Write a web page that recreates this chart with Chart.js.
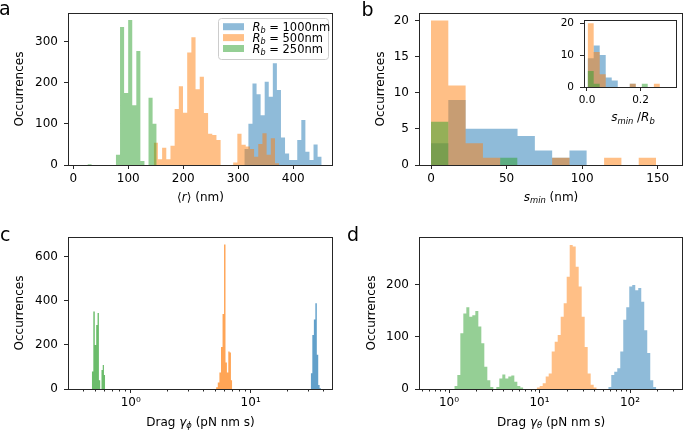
<!DOCTYPE html>
<html><head><meta charset="utf-8">
<script src="https://cdn.jsdelivr.net/npm/chart.js@4.4.1/dist/chart.umd.min.js"></script>
<style>
html,body{margin:0;padding:0;background:#fff;}
#wrap{position:relative;width:685px;height:433px;overflow:hidden;background:#fff;}
#wrap canvas{position:absolute;left:0;top:0;pointer-events:none;}
</style></head><body>
<div id="wrap">
<canvas id="ca" width="685" height="433"></canvas>
<canvas id="cb" width="685" height="433"></canvas>
<canvas id="cins" width="685" height="433"></canvas>
<canvas id="cc" width="685" height="433"></canvas>
<canvas id="cd" width="685" height="433"></canvas>
</div>
<script>
// ---------------- Series labels ----------------
const seriesNames = ['R_b = 1000nm', 'R_b = 500nm', 'R_b = 250nm'];

// ---------------- Panel a: <r> (nm) ----------------
const aXTicks = [0, 100, 200, 300, 400];
const aYTicks = [0, 100, 200, 300];
const aBlueBinStart = 311, aBlueBinWidth = 7.4;
const aBlueCounts = [39,100,198,172,121,202,166,247,182,67,28,12,12,61,109,32,12,50,20];
const aOrangeBinStart = 146.3, aOrangeBinWidth = 7.6;
const aOrangeCounts = [54,14,42,14,47,136,191,127,273,310,184,214,126,76,73,61,0,0,0,6,76,49,45,39,20,51,77,25,65,4];
const aGreenBinStart = 25.8, aGreenBinWidth = 7.4;
const aGreenCounts = [2,0,0,0,0,0,0,25,335,175,352,145,277,10,0,163,100];

// ---------------- Panel b: s_min (nm) ----------------
const bXTicks = [0, 50, 100, 150];
const bYTicks = [0, 5, 10, 15, 20];
const bBinStart = 0, bBinWidth = 11.45;
const bBlueCounts = [3,9,5,5,5,4,2,1,2];
const bOrangeCounts = [20,11,3,1,0,0,0,1,0,0,1,0,1];
const bGreenCounts = [6,0,0,0,1];

// ---------------- Inset: s_min / R_b ----------------
const insXTicks = [0, 0.2];
const insYTicks = [0, 10, 20];
const insBinStart = 0.0025, insBinWidth = 0.0225;
const insBlueCounts = [9,13,10,3,2,0,0,1];
const insOrangeCounts = [20,11,4,0,0,0,0,1,0,0,0,1];
const insGreenCounts = [5,1,0,0,0,0,0,0,0,1];

// ---------------- Panel c: Drag gamma_phi ----------------
const cXMajor = [1, 10];
const cXMinor = [0.4,0.5,0.6,0.7,0.8,0.9,2,3,4,5,6,7,8,9,20,30,40];
const cYTicks = [0, 200, 400, 600];
const cGreenBinStart = 0.474, cGreenBinWidth = 0.0138;
const cGreenCounts = [79,351,200,290,344,40,0,86,109,64];
const cOrangeBinStart = 5.15, cOrangeBinWidth = 0.17;
const cOrangeCounts = [8,30,75,190,340,655,120,75,170,165,40];
const cBlueBinStart = 31.7, cBlueBinWidth = 0.98;
const cBlueCounts = [71,245,315,389,155,18,3];

// ---------------- Panel d: Drag gamma_theta ----------------
const dXMajor = [1, 10, 100];
const dXMinor = [0.5,0.6,0.7,0.8,0.9,2,3,4,5,6,7,8,9,20,30,40,50,60,70,80,90,200,300];
const dYTicks = [0, 100, 200];
const dBinRatio = 1.0793;
const dGreenBinStart = 1.145;
const dGreenCounts = [6,27,107,145,157,139,142,150,120,88,43,17,4,0,4,20,28,20,24,26,14,6,3];
const dOrangeBinStart = 9.31;
const dOrangeCounts = [3,6,11,24,30,72,91,104,139,165,216,277,274,235,197,139,81,30,8,3];
const dBlueBinStart = 57.5;
const dBlueCounts = [4,27,33,40,72,133,157,197,200,190,194,168,113,69,17,4];

// ---------------- helpers ----------------
const FONT = "'DejaVu Sans', sans-serif";
const YW = 40, XH = 30;
const rgba = (rgb, a) => `rgba(${rgb},${a})`;
const BLUE = '31,119,180', ORANGE = '255,127,14', GREEN = '44,160,44';

function linEdges(start, width, n) { const e = []; for (let i = 0; i <= n; i++) e.push(start + i * width); return e; }
function logEdges(start, ratio, n) { const e = []; for (let i = 0; i <= n; i++) e.push(start * Math.pow(ratio, i)); return e; }
function histPoints(edges, counts) {
  const pts = counts.map((c, i) => ({ x: edges[i], y: c }));
  pts.push({ x: edges[counts.length], y: counts[counts.length - 1] });
  return pts;
}
function histDataset(label, edges, counts, rgb, alpha, order) {
  return { label, data: histPoints(edges, counts), stepped: 'before', fill: 'origin',
    backgroundColor: rgba(rgb, alpha), borderWidth: 0, borderColor: 'rgba(0,0,0,0)',
    pointRadius: 0, pointHoverRadius: 0, order };
}

function drawRich(ctx, parts, x, y, size, align, color) {
  const segs = parts.map(([t, st]) => {
    const sub = st === 'si' || st === 'sn';
    const italic = st === 'i' || st === 'si';
    const fs = sub ? size * 0.7 : size;
    const font = (italic ? 'italic ' : '') + fs + 'px ' + FONT;
    ctx.font = font;
    return { t, font, w: ctx.measureText(t).width, dy: sub ? size * 0.22 : 0 };
  });
  const total = segs.reduce((s, g) => s + g.w, 0);
  let cx = align === 'center' ? x - total / 2 : (align === 'right' ? x - total : x);
  ctx.textAlign = 'left'; ctx.textBaseline = 'alphabetic'; ctx.fillStyle = color || '#000';
  for (const g of segs) { ctx.font = g.font; ctx.fillText(g.t, cx, y + g.dy); cx += g.w; }
}
function drawVertical(ctx, text, x, y, size) {
  ctx.save(); ctx.translate(x, y); ctx.rotate(-Math.PI / 2);
  ctx.font = size + 'px ' + FONT; ctx.fillStyle = '#000';
  ctx.textAlign = 'center'; ctx.textBaseline = 'middle';
  ctx.fillText(text, 0, 0); ctx.restore();
}
function drawLetter(ctx, t, x, y) {
  ctx.font = '19px ' + FONT; ctx.fillStyle = '#000'; ctx.textAlign = 'left'; ctx.textBaseline = 'alphabetic';
  ctx.fillText(t, x, y);
}

function framePlugin(o) {
  return {
    id: 'frame' + o.id,
    beforeDraw(chart) {
      if (o.whiteBg) {
        const a = chart.chartArea, ctx = chart.ctx;
        ctx.save(); ctx.fillStyle = '#fff'; ctx.fillRect(a.left, a.top, a.right - a.left, a.bottom - a.top); ctx.restore();
      }
    },
    afterDraw(chart) {
      const a = chart.chartArea, ctx = chart.ctx;
      ctx.save();
      ctx.strokeStyle = '#262626'; ctx.lineWidth = 1;
      ctx.strokeRect(Math.round(a.left) + 0.5, Math.round(a.top) + 0.5, Math.round(a.right - a.left) - 1, Math.round(a.bottom - a.top));
      if (o.minor) {
        const sx = chart.scales.x;
        ctx.beginPath();
        for (const v of o.minor) {
          const px = Math.round(sx.getPixelForValue(v)) + 0.5;
          ctx.moveTo(px, a.bottom); ctx.lineTo(px, a.bottom + 2.5);
        }
        ctx.stroke();
      }
      if (o.draw) o.draw(ctx, chart);
      ctx.restore();
    }
  };
}

function mkChart(o) {
  const f = o.frame;
  const tickFont = { family: FONT, size: o.tickSize || 12 };
  return new Chart(document.getElementById(o.id), {
    type: 'line',
    data: { datasets: o.datasets },
    options: {
      responsive: false, animation: false, devicePixelRatio: 1, events: [],
      layout: { padding: { left: f.L - YW, right: 685 - f.R, top: f.T, bottom: 433 - f.B - XH } },
      plugins: { legend: { display: false }, tooltip: { enabled: false }, title: { display: false } },
      elements: { line: { tension: 0 } },
      scales: {
        x: {
          type: o.xType, min: o.xMin, max: o.xMax,
          afterFit: s => { s.height = XH; },
          afterBuildTicks: s => { s.ticks = o.xTicks.map(v => ({ value: v })); },
          grid: { display: true, drawOnChartArea: false, drawTicks: true, tickLength: 4, tickColor: '#262626', tickWidth: 1 },
          border: { display: false },
          ticks: { font: tickFont, color: '#000', padding: 3, autoSkip: false, maxRotation: 0, minRotation: 0, callback: o.xFmt }
        },
        y: {
          type: 'linear', min: 0, max: o.yMax,
          afterFit: s => { s.width = YW; },
          afterBuildTicks: s => { s.ticks = o.yTicks.map(v => ({ value: v })); },
          grid: { display: true, drawOnChartArea: false, drawTicks: true, tickLength: 4, tickColor: '#262626', tickWidth: 1 },
          border: { display: false },
          ticks: { font: tickFont, color: '#000', padding: 6, autoSkip: false, callback: v => String(v) }
        }
      }
    },
    plugins: [framePlugin(o)]
  });
}

const logFmt = v => ({ 1: '10\u2070', 10: '10\u00b9', 100: '10\u00b2' })[v] || '';
const legendParts = [
  [['R', 'i'], ['b', 'si'], [' = 1000nm', 'n']],
  [['R', 'i'], ['b', 'si'], [' = 500nm', 'n']],
  [['R', 'i'], ['b', 'si'], [' = 250nm', 'n']]
];

// ---------------- Panel a ----------------
mkChart({
  id: 'ca', frame: { L: 68, R: 333, T: 13, B: 165 }, xType: 'linear', xMin: -9.6, xMax: 472.2, yMax: 368.6,
  xTicks: aXTicks, yTicks: aYTicks, xFmt: v => String(v),
  datasets: [
    histDataset(seriesNames[0], linEdges(aBlueBinStart, aBlueBinWidth, aBlueCounts.length), aBlueCounts, BLUE, 0.5, 3),
    histDataset(seriesNames[1], linEdges(aOrangeBinStart, aOrangeBinWidth, aOrangeCounts.length), aOrangeCounts, ORANGE, 0.5, 2),
    histDataset(seriesNames[2], linEdges(aGreenBinStart, aGreenBinWidth, aGreenCounts.length), aGreenCounts, GREEN, 0.5, 1)
  ],
  draw(ctx) {
    drawLetter(ctx, 'a', -1, 15);
    drawVertical(ctx, 'Occurrences', 20, 89, 12);
    drawRich(ctx, [['\u27e8', 'n'], ['r', 'i'], ['\u27e9', 'n'], [' (nm)', 'n']], 200.5, 200.5, 12, 'center');
    // legend
    ctx.save();
    ctx.beginPath(); ctx.roundRect(218.5, 18.5, 110, 41, 3);
    ctx.fillStyle = 'rgba(255,255,255,0.8)'; ctx.fill();
    ctx.strokeStyle = '#cccccc'; ctx.lineWidth = 1; ctx.stroke();
    const cols = [BLUE, ORANGE, GREEN];
    const rows = [26.7, 37.6, 48.5];
    for (let i = 0; i < 3; i++) {
      ctx.fillStyle = rgba(cols[i], 0.5);
      ctx.fillRect(223, rows[i] - 3.5, 21, 7);
      drawRich(ctx, legendParts[i], 252.5, rows[i] + 4.2, 11.5, 'left');
    }
    ctx.restore();
  }
});

// ---------------- Panel b ----------------
mkChart({
  id: 'cb', frame: { L: 419, R: 683, T: 13, B: 165 }, xType: 'linear', xMin: -7.94, xMax: 166.7, yMax: 21,
  xTicks: bXTicks, yTicks: bYTicks, xFmt: v => String(v),
  datasets: [
    histDataset(seriesNames[0], linEdges(bBinStart, bBinWidth, bBlueCounts.length), bBlueCounts, BLUE, 0.5, 3),
    histDataset(seriesNames[1], linEdges(bBinStart, bBinWidth, bOrangeCounts.length), bOrangeCounts, ORANGE, 0.5, 2),
    histDataset(seriesNames[2], linEdges(bBinStart, bBinWidth, bGreenCounts.length), bGreenCounts, GREEN, 0.5, 1)
  ],
  draw(ctx) {
    drawLetter(ctx, 'b', 361.5, 16);
    drawVertical(ctx, 'Occurrences', 381, 89, 12);
    drawRich(ctx, [['s', 'i'], ['min', 'si'], [' (nm)', 'n']], 551, 200.5, 12, 'center');
  }
});

// ---------------- Inset ----------------
mkChart({
  id: 'cins', frame: { L: 584, R: 677, T: 20, B: 87 }, xType: 'linear', xMin: -0.0112, xMax: 0.3365, yMax: 21,
  xTicks: insXTicks, yTicks: insYTicks, xFmt: v => v.toFixed(1), whiteBg: true, tickSize: 10.5,
  datasets: [
    histDataset(seriesNames[0], linEdges(insBinStart, insBinWidth, insBlueCounts.length), insBlueCounts, BLUE, 0.5, 3),
    histDataset(seriesNames[1], linEdges(insBinStart, insBinWidth, insOrangeCounts.length), insOrangeCounts, ORANGE, 0.5, 2),
    histDataset(seriesNames[2], linEdges(insBinStart, insBinWidth, insGreenCounts.length), insGreenCounts, GREEN, 0.5, 1)
  ],
  draw(ctx) {
    drawRich(ctx, [['s', 'i'], ['min', 'si'], [' /', 'n'], ['R', 'i'], ['b', 'si']], 633, 121, 12, 'center');
  }
});

// ---------------- Panel c ----------------
mkChart({
  id: 'cc', frame: { L: 68, R: 333, T: 237, B: 389 }, xType: 'logarithmic', xMin: 0.345, xMax: 48.6, yMax: 689,
  xTicks: cXMajor, yTicks: cYTicks, xFmt: logFmt, minor: cXMinor,
  datasets: [
    histDataset(seriesNames[0], linEdges(cBlueBinStart, cBlueBinWidth, cBlueCounts.length), cBlueCounts, BLUE, 0.7, 3),
    histDataset(seriesNames[1], linEdges(cOrangeBinStart, cOrangeBinWidth, cOrangeCounts.length), cOrangeCounts, ORANGE, 0.7, 2),
    histDataset(seriesNames[2], linEdges(cGreenBinStart, cGreenBinWidth, cGreenCounts.length), cGreenCounts, GREEN, 0.7, 1)
  ],
  draw(ctx) {
    drawLetter(ctx, 'c', 0, 241);
    drawVertical(ctx, 'Occurrences', 20, 313, 12);
    drawRich(ctx, [['Drag ', 'n'], ['\u03b3', 'i'], ['\u03d5', 'si'], [' (pN nm s)', 'n']], 200.5, 425.5, 12, 'center');
  }
});

// ---------------- Panel d ----------------
mkChart({
  id: 'cd', frame: { L: 419, R: 683, T: 237, B: 389 }, xType: 'logarithmic', xMin: 0.466, xMax: 385, yMax: 292.3,
  xTicks: dXMajor, yTicks: dYTicks, xFmt: logFmt, minor: dXMinor,
  datasets: [
    histDataset(seriesNames[0], logEdges(dBlueBinStart, dBinRatio, dBlueCounts.length), dBlueCounts, BLUE, 0.5, 3),
    histDataset(seriesNames[1], logEdges(dOrangeBinStart, dBinRatio, dOrangeCounts.length), dOrangeCounts, ORANGE, 0.5, 2),
    histDataset(seriesNames[2], logEdges(dGreenBinStart, dBinRatio, dGreenCounts.length), dGreenCounts, GREEN, 0.5, 1)
  ],
  draw(ctx) {
    drawLetter(ctx, 'd', 347, 241);
    drawVertical(ctx, 'Occurrences', 372, 313, 12);
    drawRich(ctx, [['Drag ', 'n'], ['\u03b3', 'i'], ['\u03b8', 'si'], [' (pN nm s)', 'n']], 551, 425.5, 12, 'center');
  }
});
</script>
</body></html>
